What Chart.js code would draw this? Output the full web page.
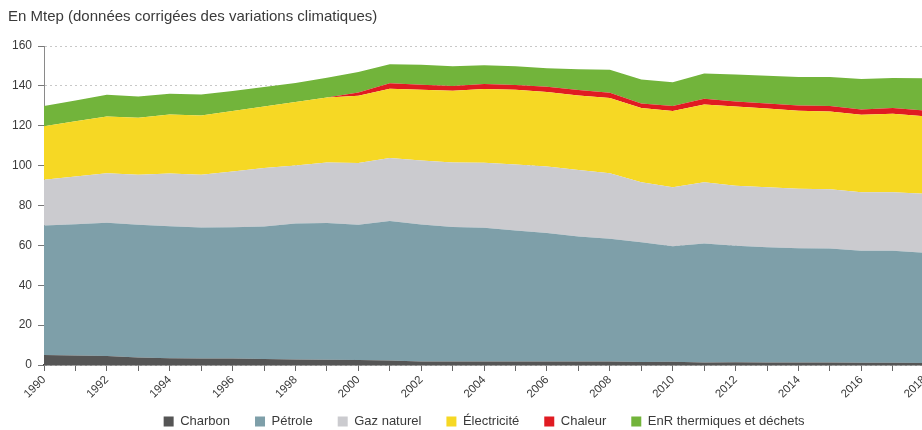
<!DOCTYPE html>
<html lang="fr">
<head>
<meta charset="utf-8">
<title>Consommation finale d'énergie</title>
<script src="https://cdn.jsdelivr.net/npm/chart.js@4.4.1/dist/chart.umd.min.js"></script>
<style>
  html, body { margin: 0; padding: 0; background: #fff; overflow: hidden; }
  #wrap { position: absolute; left: 0; top: 0; width: 936px; height: 430px; }
</style>
</head>
<body>
<div id="wrap"><canvas id="chart_conso"></canvas></div>
<script>
// années et séries (Mtep)
var years = [
  '1990','1991','1992','1993','1994','1995','1996','1997','1998','1999',
  '2000','2001','2002','2003','2004','2005','2006','2007','2008','2009',
  '2010','2011','2012','2013','2014','2015','2016','2017','2018'
];
var charbon = [5.0, 4.8, 4.5, 3.7, 3.4, 3.2, 3.2, 3.0, 2.8, 2.6,
               2.5, 2.2, 1.8, 1.8, 1.8, 1.8, 1.8, 1.8, 1.8, 1.5,
               1.6, 1.3, 1.4, 1.3, 1.2, 1.2, 1.1, 1.1, 1.0];
var petrole = [65.0, 65.8, 66.8, 66.6, 66.2, 65.8, 65.9, 66.5, 68.2, 68.6,
               67.8, 70.0, 68.7, 67.4, 67.0, 65.7, 64.4, 62.7, 61.5, 60.1,
               58.0, 59.7, 58.4, 57.7, 57.4, 57.2, 56.2, 56.2, 55.3];
var gaz = [22.9, 24.0, 24.9, 25.1, 26.5, 26.4, 28.0, 29.3, 29.1, 30.4,
           31.0, 31.6, 32.1, 32.4, 32.6, 33.1, 33.4, 33.3, 32.9, 30.0,
           29.6, 30.7, 30.1, 30.1, 29.8, 29.7, 29.3, 29.4, 29.6];
var electricite = [26.8, 27.6, 28.5, 28.6, 29.6, 29.8, 30.3, 30.9, 31.8, 32.6,
                   33.7, 34.8, 35.5, 36.0, 37.0, 37.5, 37.3, 37.4, 37.7, 37.3,
                   38.2, 39.0, 39.7, 39.5, 39.1, 39.1, 38.9, 39.3, 38.9];
var chaleur = [0, 0, 0, 0, 0, 0, 0, 0, 0, 0,
               1.7, 2.7, 2.5, 2.3, 2.5, 2.3, 2.6, 2.7, 2.7, 2.2,
               2.5, 2.9, 2.6, 2.5, 2.7, 2.7, 2.6, 2.9, 2.9];
var enr = [10.2, 10.5, 10.8, 10.7, 10.4, 10.5, 10.0, 9.7, 9.5, 9.9,
           10.2, 9.5, 10.0, 9.9, 9.5, 9.5, 9.4, 10.4, 11.5, 12.1,
           11.9, 12.6, 13.5, 14.0, 14.2, 14.6, 15.3, 15.1, 16.1];
var yTicks = [0, 20, 40, 60, 80, 100, 120, 140, 160];

var txt = '#3a3a3a';
var font = "'Liberation Sans', Arial, sans-serif";

function area(label, data, color, fill) {
  return {
    label: label,
    data: data,
    backgroundColor: color,
    borderColor: color,
    borderWidth: 0,
    pointRadius: 0,
    pointHoverRadius: 0,
    tension: 0,
    fill: fill
  };
}

// the x axis is kept short so the legend sits close; let its labels overflow downwards
var labelRoom = {
  id: 'labelRoom',
  afterLayout: function (chart) {
    chart.scales.x.bottom = chart.height;
  }
};

var ctx = document.getElementById('chart_conso').getContext('2d');
var consoChart = new Chart(ctx, {
  type: 'line',
  data: {
    labels: years,
    datasets: [
      area('Charbon', charbon, '#555555', 'origin'),
      area('Pétrole', petrole, '#7e9fa9', '-1'),
      area('Gaz naturel', gaz, '#cbcbcf', '-1'),
      area('Électricité', electricite, '#f6d824', '-1'),
      area('Chaleur', chaleur, '#e01b22', '-1'),
      area('EnR thermiques et déchets', enr, '#72b43b', '-1')
    ]
  },
  plugins: [labelRoom],
  options: {
    responsive: true,
    maintainAspectRatio: false,
    animation: false,
    layout: { padding: { left: 8, right: 0, top: 0, bottom: 0 } },
    plugins: {
      title: {
        display: true,
        text: 'En Mtep (données corrigées des variations climatiques)',
        align: 'start',
        color: txt,
        font: { family: font, size: 15, weight: 'normal' },
        padding: { top: 8, bottom: 20 }
      },
      legend: {
        position: 'bottom',
        fullSize: false,
        maxHeight: 40,
        labels: {
          boxWidth: 10,
          boxHeight: 10,
          padding: 25,
          color: txt,
          font: { family: font, size: 13 }
        }
      },
      tooltip: { enabled: false }
    },
    scales: {
      x: {
        afterFit: function (s) { s.height = 25; },
        grid: {
          drawOnChartArea: false,
          tickLength: 6,
          tickColor: '#666'
        },
        border: { color: '#444', width: 1.5 },
        ticks: {
          autoSkip: false,
          maxRotation: 45,
          minRotation: 45,
          padding: 2,
          color: txt,
          font: { family: font, size: 11.5 },
          callback: function (v, i) {
            return i % 2 === 0 ? this.getLabelForValue(v) : '';
          }
        }
      },
      y: {
        stacked: true,
        min: 0,
        max: 160,
        afterBuildTicks: function (s) {
          s.ticks = yTicks.map(function (v) { return { value: v }; });
        },
        afterFit: function (s) { s.width = 36; },
        grid: {
          color: '#c8c8c8',
          tickLength: 6,
          tickColor: '#777'
        },
        border: { color: '#8a8a8a', width: 1, dash: [2, 3] },
        ticks: {
          padding: 6,
          color: txt,
          font: { family: font, size: 12 }
        }
      }
    }
  }
});
</script>
</body>
</html>
